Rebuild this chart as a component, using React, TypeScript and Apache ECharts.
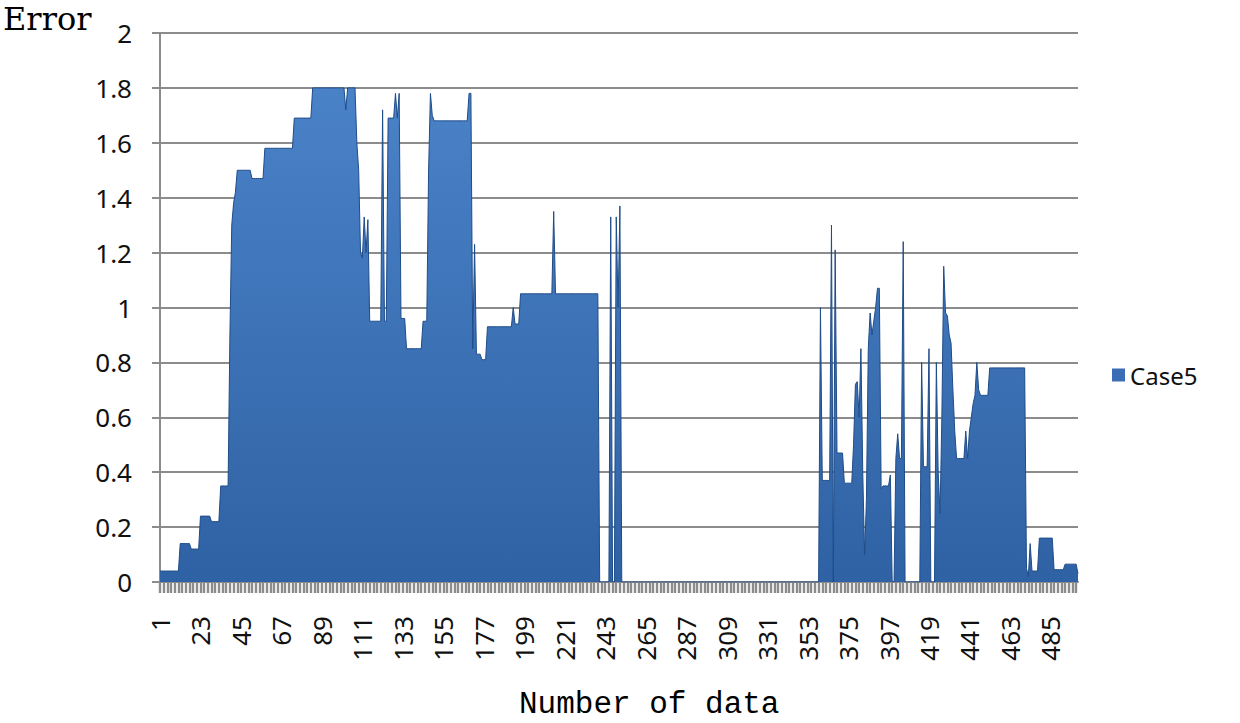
import React, { useEffect, useRef } from "react";
import * as echarts from "echarts";

// Category labels: data index 1..500
const categoryCount = 500;
const categories: string[] = Array.from({ length: categoryCount }, (_, k) => String(k + 1));

// Error values, as [value, number of consecutive points]
const runsPart1: [number, number][] = [
  [0.04, 11], [0.14, 6], [0.12, 5], [0.24, 6], [0.22, 5], [0.35, 5],
  [0.9, 1], [1.3, 1], [1.38, 1], [1.42, 1], [1.5, 8], [1.47, 7],
  [1.58, 16], [1.69, 10], [1.8, 18], [1.72, 1], [1.8, 5], [1.6, 1],
  [1.5, 1], [1.2, 1], [1.18, 1], [1.33, 1], [1.2, 1], [1.32, 1],
];
const runsPart2: [number, number][] = [
  [0.95, 7], [1.72, 1], [0.95, 2], [1.69, 4], [1.78, 1], [1.69, 1], [1.78, 1],
  [0.96, 3], [0.85, 9], [0.95, 3], [1.5, 1], [1.78, 1], [1.7, 1], [1.68, 19],
  [1.78, 2], [0.85, 1], [1.23, 1], [0.83, 3], [0.81, 3], [0.93, 14], [1.0, 1],
  [0.94, 3], [1.05, 18], [1.35, 1], [1.05, 24], [0, 6], [1.33, 1], [0, 2],
  [1.33, 1], [1.0, 1], [1.37, 1],
];
const runsPart3: [number, number][] = [
  [0, 108], [1.0, 1], [0.37, 5], [1.3, 1], [0, 1], [1.21, 1], [0.47, 4],
  [0.36, 5], [0.5, 1], [0.72, 1], [0.73, 1], [0.6, 1], [0.85, 1], [0.4, 1],
  [0.1, 1], [0.3, 1], [0.85, 1], [0.98, 1], [0.9, 1], [0.95, 1], [1.0, 1],
  [1.07, 2], [0.34, 1], [0.35, 4], [0.39, 1], [0, 2], [0.45, 1], [0.54, 1],
  [0.45, 2], [1.24, 1], [0, 9], [0.8, 1], [0.42, 3], [0.85, 1], [0, 3],
  [0.8, 1], [0.4, 1], [0.25, 1], [0.6, 1], [1.15, 1], [0.98, 1], [0.97, 1],
  [0.9, 1], [0.87, 1], [0.7, 1], [0.55, 1], [0.45, 5], [0.55, 1], [0.45, 1],
  [0.55, 1], [0.6, 1], [0.65, 1], [0.68, 1], [0.8, 1], [0.7, 1], [0.68, 5],
  [0.78, 20], [0.05, 1], [0.02, 1], [0.14, 1], [0.04, 4], [0.16, 8],
  [0.045, 6], [0.065, 7], [0.03, 1],
];

const yTicks = { min: 0, max: 2, interval: 0.2 };
const seriesName = "Case5";
const xTitle = "Number of data";
const yTitle = "Error";

function expandRuns(runs: [number, number][]): number[] {
  const out: number[] = [];
  for (const [v, n] of runs) for (let k = 0; k < n; k++) out.push(v);
  return out;
}

const errorValues: number[] = [
  ...expandRuns(runsPart1),
  ...expandRuns(runsPart2),
  ...expandRuns(runsPart3),
];

const LABEL_FONT = "'Noto Sans', 'Open Sans', sans-serif";

export default function App() {
  const ref = useRef<HTMLDivElement>(null);

  useEffect(() => {
    document.body.style.margin = "0";
    if (!ref.current) return;
    const chart = echarts.init(ref.current, undefined, { renderer: "svg" });
    const areaGradient = new echarts.graphic.LinearGradient(0, 0, 0, 1, [
      { offset: 0, color: "#4a82c8" },
      { offset: 1, color: "#2f62a4" },
    ]);
    chart.setOption({
      animation: false,
      backgroundColor: "#ffffff",
      grid: { left: 160, top: 33, width: 918, height: 549 },
      graphic: [
        {
          type: "text",
          left: 3,
          top: 3,
          style: {
            text: yTitle,
            font: "32px 'DejaVu Serif', serif",
            fill: "#000",
          },
        },
        {
          type: "text",
          left: 519,
          top: 689,
          style: {
            text: xTitle,
            font: "31px 'Liberation Mono', 'DejaVu Sans Mono', monospace",
            fill: "#000",
          },
        },
      ],
      legend: {
        data: [seriesName],
        left: 1107,
        top: 358,
        orient: "vertical",
        icon: "rect",
        itemWidth: 13,
        itemHeight: 13,
        itemStyle: { color: "#3a6db3" },
        textStyle: { fontFamily: LABEL_FONT, fontSize: 24, color: "#111" },
      },
      xAxis: {
        type: "category",
        data: categories,
        boundaryGap: false,
        axisLine: { show: true, lineStyle: { color: "#8c8c8c", width: 2 } },
        axisTick: {
          show: true,
          interval: 1,
          length: 11,
          lineStyle: { color: "#8c8c8c", width: 2.4 },
        },
        axisLabel: {
          interval: 21,
          rotate: 90,
          margin: 34,
          fontFamily: LABEL_FONT,
          fontSize: 26,
          color: "#111",
        },
        splitLine: { show: false },
      },
      yAxis: {
        type: "value",
        min: yTicks.min,
        max: yTicks.max,
        interval: yTicks.interval,
        axisLine: { show: true, lineStyle: { color: "#8c8c8c", width: 2 } },
        axisTick: { show: true, length: 8, lineStyle: { color: "#8c8c8c", width: 2 } },
        axisLabel: {
          margin: 28,
          fontFamily: LABEL_FONT,
          fontSize: 26,
          color: "#111",
        },
        splitLine: { show: true, lineStyle: { color: "#8c8c8c", width: 2 } },
      },
      series: [
        {
          name: seriesName,
          type: "line",
          data: errorValues,
          symbol: "none",
          smooth: false,
          lineStyle: { color: "#1f4c88", width: 1 },
          itemStyle: { color: "#3a6db3" },
          areaStyle: { color: areaGradient, opacity: 1 },
        },
      ],
    });
    return () => chart.dispose();
  }, []);

  return <div ref={ref} style={{ width: 1240, height: 723 }} />;
}
